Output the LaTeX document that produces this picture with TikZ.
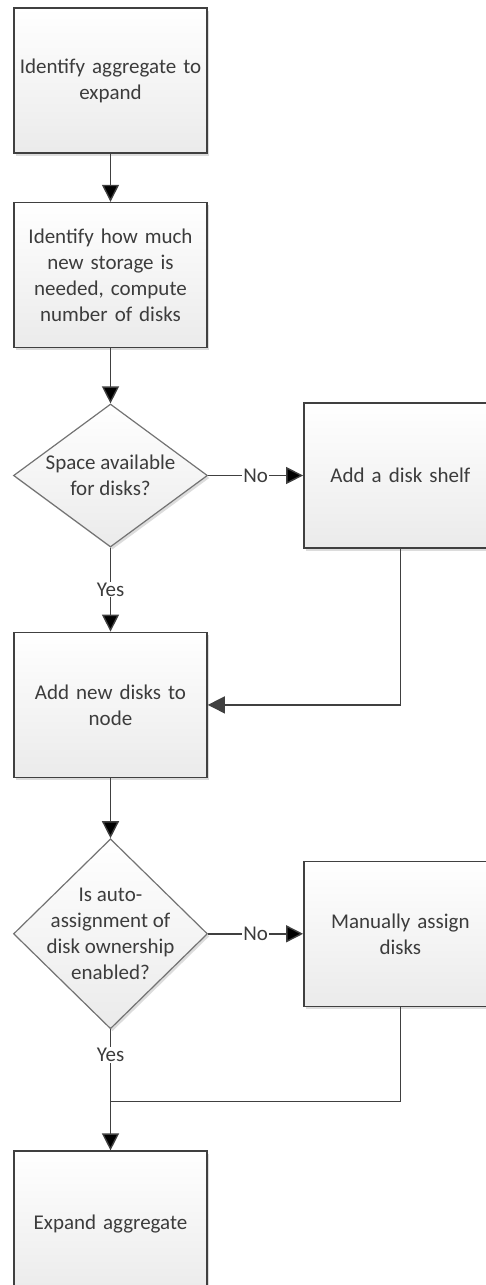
\documentclass[tikz,border=0pt]{standalone}
\usepackage{fontspec}
\setmainfont{Carlito}
\usetikzlibrary{positioning,shapes.geometric,arrows.meta,shadows}
\definecolor{linegray}{HTML}{404040}
\definecolor{textgray}{HTML}{3C3C3C}

\begin{document}
\begin{tikzpicture}[x=1pt, y=1pt, font=\fontsize{21}{26}\selectfont, text=textgray,
  softshadow/.style={drop shadow={shadow xshift=2pt, shadow yshift=-2.5pt, fill=black!30, opacity=.45}},
  process/.style={rectangle, draw=linegray, line width=1.6pt, minimum width=193pt, minimum height=145pt,
    inner sep=2pt, text width=186pt, align=center, top color=white, bottom color=black!8, softshadow},
  decision/.style={diamond, draw=black!55, line width=1.2pt, minimum width=194pt, inner sep=0pt,
    top color=white, bottom color=black!8, softshadow},
  answer/.style={fill=white, inner sep=1pt},
  flow/.style={draw=linegray, line width=1.4pt, -{Triangle[length=17pt,width=17pt]}},
  joinline/.style={draw=linegray, line width=1.4pt}]

  \useasboundingbox (0,0) rectangle (486,-1285);

  % main column
  \node[process] (Identify) at (110.5,-80.5) {Identify aggregate to\\expand};
  \node[process, below=48pt of Identify] (Compute) {Identify how much\\new storage is\\needed, compute\\number of disks};
  \node[decision, minimum height=143pt, below=55pt of Compute] (Space) {};
  \node[align=center] (SpaceText) at (Space) {Space available\\for disks?};
  \node[process, below=84pt of Space] (AddDisks) {Add new disks to\\node};
  \node[decision, minimum height=190pt, below=60pt of AddDisks] (Auto) {};
  \node[align=center] (AutoText) at (Auto) {Is auto-\\assignment of\\disk ownership\\enabled?};
  \node[process, below=121pt of Auto] (Expand) {Expand aggregate};

  % side branches
  \node[process, right=95pt of Space] (Shelf) {Add a disk shelf};
  \node[process, right=95pt of Auto] (Manual) {Manually assign\\disks};
  \coordinate[below=72pt of Auto] (Join);

  \path[flow]
  (Identify) edge (Compute)
  (Compute) edge (Space)
  (Space) edge node[answer]{No} (Shelf)
  (Space) edge node[answer]{Yes} (AddDisks)
  (AddDisks) edge (Auto)
  (Auto) edge node[answer]{No} (Manual)
  (Auto) edge node[answer, pos=0.21]{Yes} (Expand);

  \draw[flow] (Shelf) |- (AddDisks);
  \draw[joinline] (Manual) |- (Join);
\end{tikzpicture}
\end{document}
